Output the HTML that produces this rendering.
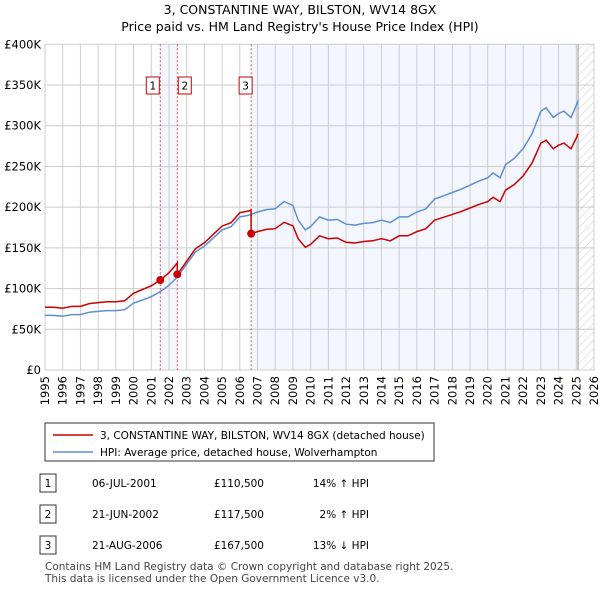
<!DOCTYPE html>
<html><head><meta charset="utf-8"><style>
body{margin:0;background:#fff;font-family:"Liberation Sans","DejaVu Sans",sans-serif;}
svg text{font-family:"DejaVu Sans","Liberation Sans",sans-serif;}
</style></head><body>
<svg width="600" height="590" viewBox="0 0 600 590">
<defs><pattern id="hatch" width="6" height="6" patternUnits="userSpaceOnUse" patternTransform="rotate(45)"><line x1="0" y1="0" x2="0" y2="6" stroke="#ccc" stroke-width="1"/></pattern></defs>
<text x="300" y="14" text-anchor="middle" font-size="12.5">3, CONSTANTINE WAY, BILSTON, WV14 8GX</text>
<text x="300" y="31" text-anchor="middle" font-size="12.5">Price paid vs. HM Land Registry's House Price Index (HPI)</text>
<g id="plot"></g>
<g id="legend">
<rect x="45" y="423" width="389" height="38" fill="#fff" stroke="#333"/>
<line x1="53" y1="435" x2="93" y2="435" stroke="#cc0000" stroke-width="1.5"/>
<text x="100" y="439" font-size="10.5">3, CONSTANTINE WAY, BILSTON, WV14 8GX (detached house)</text>
<line x1="53" y1="452" x2="93" y2="452" stroke="#5b8fd4" stroke-width="1.5"/>
<text x="100" y="456" font-size="10.5">HPI: Average price, detached house, Wolverhampton</text>
</g>
<g id="table" font-size="10.5"></g>
<text x="45" y="570" font-size="10.5" fill="#444">Contains HM Land Registry data © Crown copyright and database right 2025.</text>
<text x="45" y="582" font-size="10.5" fill="#444">This data is licensed under the Open Government Licence v3.0.</text>
</svg>
<script>
const hpiYears=[1995,1995.5,1996,1996.5,1997,1997.5,1998,1998.5,1999,1999.5,2000,2000.5,2001,2001.5,2002,2002.5,2003,2003.5,2004,2004.5,2005,2005.5,2006,2006.5,2007,2007.5,2008,2008.5,2009,2009.3,2009.7,2010,2010.5,2011,2011.5,2012,2012.5,2013,2013.5,2014,2014.5,2015,2015.5,2016,2016.5,2017,2017.5,2018,2018.5,2019,2019.5,2020,2020.3,2020.7,2021,2021.5,2022,2022.5,2023,2023.3,2023.7,2024,2024.3,2024.7,2025,2025.1];
const hpiValues=[67,67,66,68,68,71,72,73,73,74,82,86,90,96,104,115,130,145,152,162,172,176,188,190,194,197,198,207,202,184,172,176,188,184,185,179,178,180,181,184,181,188,188,194,198,210,214,218,222,227,232,236,242,236,252,260,272,290,318,322,310,315,318,310,325,331];
const sales=[{n:"1",t:2001.51,p:110.5,d:"06-JUL-2001",pr:"£110,500",h:"14% ↑ HPI"},{n:"2",t:2002.47,p:117.5,d:"21-JUN-2002",pr:"£117,500",h:"2% ↑ HPI"},{n:"3",t:2006.64,p:167.5,d:"21-AUG-2006",pr:"£167,500",h:"13% ↓ HPI"}];
const yTicks=[0,50,100,150,200,250,300,350,400];
const xTicks=[];for(let y=1995;y<=2026;y++)xTicks.push(y);
const X0=45,X1=594,Y0=370,Y1=44.3;
const sx=t=>X0+(t-1995)/31*(X1-X0);
const sy=v=>Y0-v/400*(Y0-Y1);
const NS="http://www.w3.org/2000/svg";
const plot=document.getElementById('plot');
function mk(tag,attrs,parent){const e=document.createElementNS(NS,tag);for(const k in attrs)e.setAttribute(k,attrs[k]);(parent||plot).appendChild(e);return e;}
function hpiAt(t){for(let i=0;i<hpiYears.length-1;i++){if(t<=hpiYears[i+1]){const f=(t-hpiYears[i])/(hpiYears[i+1]-hpiYears[i]);return hpiValues[i]+f*(hpiValues[i+1]-hpiValues[i]);}}return hpiValues[hpiValues.length-1];}
const endT=hpiYears[hpiYears.length-1];
let s=mk('rect',{x:sx(sales[0].t),y:Y1,width:sx(sales[1].t)-sx(sales[0].t),height:Y0-Y1,fill:'#eef3fc',opacity:0.7});

s=mk('rect',{x:sx(sales[2].t),y:Y1,width:sx(endT)-sx(sales[2].t),height:Y0-Y1,fill:'#eef3fc',opacity:0.7});

s=mk('rect',{x:sx(endT),y:Y1,width:X1-sx(endT),height:Y0-Y1,fill:'url(#hatch)'});

yTicks.forEach(v=>{const l=mk('line',{x1:X0,x2:X1,y1:sy(v),y2:sy(v),stroke:'#ccc'});
const t=mk('text',{x:X0-4,y:sy(v)+4,'text-anchor':'end','font-size':'11.5'});t.textContent=v===0?'£0':'£'+v+'K';});
xTicks.forEach(y=>{const l=mk('line',{x1:sx(y),x2:sx(y),y1:Y1,y2:Y0,stroke:'#ccc'});
const t=mk('text',{x:0,y:0,'text-anchor':'end','font-size':'11.5',transform:`translate(${sx(y)+4},${Y0+6}) rotate(-90)`});t.textContent=y;});
let l=mk('line',{x1:sx(endT),x2:sx(endT),y1:Y1,y2:Y0,stroke:'#999'});
sales.forEach(sl=>{const v=mk('line',{x1:sx(sl.t),x2:sx(sl.t),y1:Y1,y2:Y0,stroke:'#e05050','stroke-dasharray':'2,2'});});
let d='';hpiYears.forEach((t,i)=>{d+=(i?'L':'M')+sx(t).toFixed(1)+','+sy(hpiValues[i]).toFixed(1);});
let p=mk('path',{d:d,fill:'none',stroke:'#5b8fd4','stroke-width':1.5});
function segFor(t){let k=0;for(let i=0;i<sales.length;i++)if(t>=sales[i].t)k=i;return sales[k];}
let pts=[];
const ts=hpiYears.slice();sales.forEach(sl=>{ts.push(sl.t-0.001);ts.push(sl.t);});ts.sort((a,b)=>a-b);
ts.forEach(t=>{const sl=segFor(t);pts.push([sx(t),sy(sl.p*hpiAt(t)/hpiAt(sl.t))]);});
d=pts.map((q,i)=>(i?'L':'M')+q[0].toFixed(1)+','+q[1].toFixed(1)).join('');
p=mk('path',{d:d,fill:'none',stroke:'#cc0000','stroke-width':1.5});
sales.forEach((sl,i)=>{const c=mk('circle',{cx:sx(sl.t),cy:sy(sl.p),r:4,fill:'#cc0000'});
const bx=[sx(sl.t)-14,sx(sl.t)+1,sx(sl.t)-12][i];
const r=mk('rect',{x:bx,y:77,width:13,height:17,fill:'#fff',stroke:'#cc0000'});
const t=mk('text',{x:bx+6.5,y:89.5,'text-anchor':'middle','font-size':'10.5'});t.textContent=sl.n;});
const tb=document.getElementById('table');
sales.forEach((sl,i)=>{const y=[483,514,545][i];
const r=mk('rect',{x:40,y:y-9,width:16,height:18,fill:'#fff',stroke:'#333'},tb);
let t=mk('text',{x:48,y:y+4,'text-anchor':'middle'},tb);t.textContent=sl.n;
t=mk('text',{x:92,y:y+4},tb);t.textContent=sl.d;
t=mk('text',{x:264,y:y+4,'text-anchor':'end'},tb);t.textContent=sl.pr;
t=mk('text',{x:369,y:y+4,'text-anchor':'end'},tb);t.textContent=sl.h;});
</script>
</body></html>
